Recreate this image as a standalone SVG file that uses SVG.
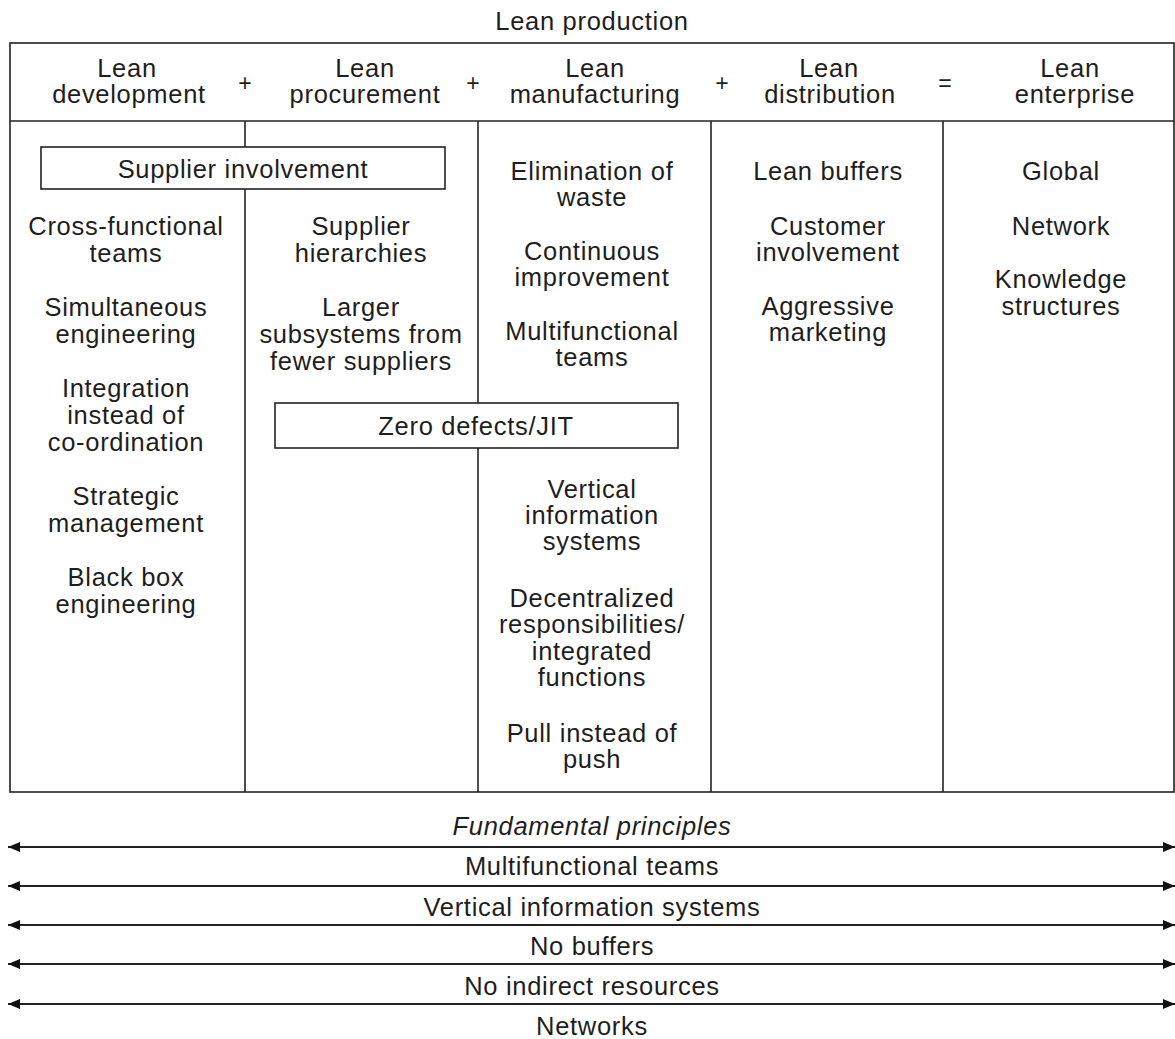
<svg xmlns="http://www.w3.org/2000/svg" width="1175" height="1039" viewBox="0 0 1175 1039">
<defs>
<style>
text{font-family:"Liberation Sans",Arial,sans-serif;font-size:25.5px;letter-spacing:0.7px;fill:#1e1e1e;text-anchor:middle}
.op{font-size:23px;letter-spacing:0}
.it{font-style:italic}
.ln{stroke:#222;stroke-width:1.6;fill:none}
.bx{stroke:#222;stroke-width:1.6;fill:#fff}
.ar{stroke:#222;stroke-width:1.8;fill:none;marker-start:url(#ah);marker-end:url(#ah)}
</style>
<marker id="ah" viewBox="0 0 12 10" refX="12" refY="5" markerWidth="12" markerHeight="10" markerUnits="userSpaceOnUse" orient="auto-start-reverse">
<path d="M0,0 L12,5 L0,10 Z" fill="#111"/>
</marker>
</defs>
<rect width="1175" height="1039" fill="#fff"/>

<g id="title"><text x="592" y="30">Lean production</text></g>

<g id="table">
<rect class="ln" x="10" y="43" width="1164" height="749"/>
<line class="ln" x1="10" y1="121" x2="1174" y2="121"/>
<line class="ln" x1="245" y1="121" x2="245" y2="792"/>
<line class="ln" x1="478" y1="121" x2="478" y2="792"/>
<line class="ln" x1="711" y1="121" x2="711" y2="792"/>
<line class="ln" x1="943" y1="121" x2="943" y2="792"/>
</g>

<g id="headers">
<text x="127" y="77">Lean</text><text x="129" y="103">development</text>
<text x="365" y="77">Lean</text><text x="365" y="103">procurement</text>
<text x="595" y="77">Lean</text><text x="595" y="103">manufacturing</text>
<text x="829" y="77">Lean</text><text x="830" y="103">distribution</text>
<text x="1070" y="77">Lean</text><text x="1075" y="103">enterprise</text>
<text class="op" x="245" y="91">+</text>
<text class="op" x="473" y="91">+</text>
<text class="op" x="722" y="91">+</text>
<text class="op" x="945" y="91">=</text>
</g>

<g id="supplier-involvement">
<rect class="bx" x="41" y="147" width="404" height="42"/>
<text x="243" y="178">Supplier involvement</text>
</g>

<g id="zero-defects">
<rect class="bx" x="275" y="403" width="403" height="45"/>
<text x="476" y="435">Zero defects/JIT</text>
</g>

<g id="col-development">
<text x="126" y="235">Cross-functional</text><text x="126" y="262">teams</text>
<text x="126" y="316">Simultaneous</text><text x="126" y="343">engineering</text>
<text x="126" y="397">Integration</text><text x="126" y="424">instead of</text><text x="126" y="451">co-ordination</text>
<text x="126" y="505">Strategic</text><text x="126" y="532">management</text>
<text x="126" y="586">Black box</text><text x="126" y="613">engineering</text>
</g>

<g id="col-procurement">
<text x="361" y="235">Supplier</text><text x="361" y="262">hierarchies</text>
<text x="361" y="316">Larger</text><text x="361" y="343">subsystems from</text><text x="361" y="370">fewer suppliers</text>
</g>

<g id="col-manufacturing">
<text x="592" y="180">Elimination of</text><text x="592" y="206">waste</text>
<text x="592" y="260">Continuous</text><text x="592" y="286">improvement</text>
<text x="592" y="340">Multifunctional</text><text x="592" y="366">teams</text>
<text x="592" y="498">Vertical</text><text x="592" y="524">information</text><text x="592" y="550">systems</text>
<text x="592" y="607">Decentralized</text><text x="592" y="633">responsibilities/</text><text x="592" y="660">integrated</text><text x="592" y="686">functions</text>
<text x="592" y="742">Pull instead of</text><text x="592" y="768">push</text>
</g>

<g id="col-distribution">
<text x="828" y="180">Lean buffers</text>
<text x="828" y="235">Customer</text><text x="828" y="261">involvement</text>
<text x="828" y="315">Aggressive</text><text x="828" y="341">marketing</text>
</g>

<g id="col-enterprise">
<text x="1061" y="180">Global</text>
<text x="1061" y="235">Network</text>
<text x="1061" y="288">Knowledge</text><text x="1061" y="315">structures</text>
</g>

<g id="principles">
<text class="it" x="592" y="835">Fundamental principles</text>
<text x="592" y="875">Multifunctional teams</text>
<text x="592" y="916">Vertical information systems</text>
<text x="592" y="955">No buffers</text>
<text x="592" y="995">No indirect resources</text>
<text x="592" y="1035">Networks</text>
</g>

<g id="connectors">
<line class="ar" x1="8" y1="847" x2="1175" y2="847"/>
<line class="ar" x1="8" y1="886" x2="1175" y2="886"/>
<line class="ar" x1="8" y1="925" x2="1175" y2="925"/>
<line class="ar" x1="8" y1="964" x2="1175" y2="964"/>
<line class="ar" x1="8" y1="1004" x2="1175" y2="1004"/>
</g>
</svg>
